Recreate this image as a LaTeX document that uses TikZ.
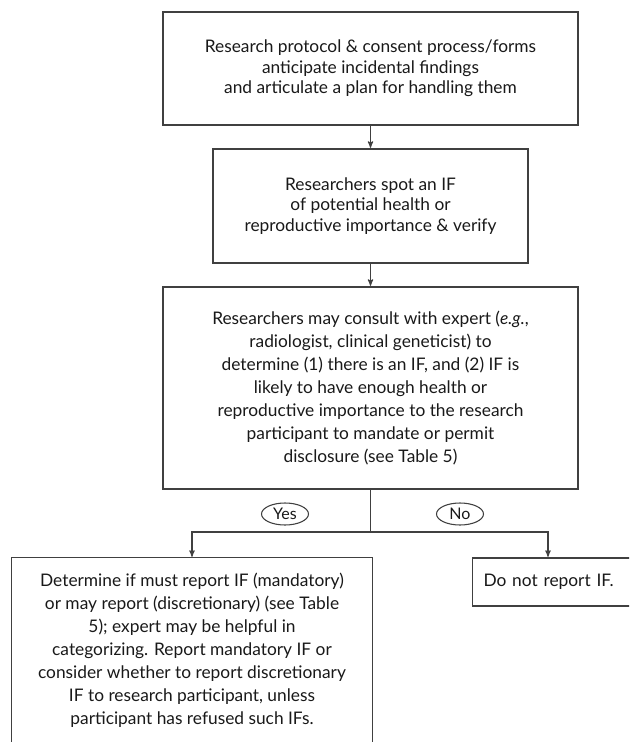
\documentclass[tikz,border=0pt]{standalone}
\usepackage{fontspec}
\setmainfont{Lato}
\usetikzlibrary{shapes.geometric,arrows}
\newcommand{\boxfont}{\fontsize{13pt}{17.25pt}\selectfont}
\newcommand{\tightfont}{\fontsize{13pt}{15.5pt}\selectfont}

\begin{document}
\begin{tikzpicture}[x=0.75pt,y=-0.75pt,->,>=stealth',shorten >=0.5pt,line width=0.8pt,
                    box/.style={rectangle,draw=black!75,text=black!90,align=center,font=\boxfont},
                    tag/.style={ellipse,draw=black!75,text=black!90,inner sep=1pt,
                                minimum width=35.25pt,minimum height=16.5pt,font=\fontsize{12pt}{14pt}\selectfont}]
  \useasboundingbox (0,0) rectangle (629,742);
  \clip (0,0) rectangle (629,742);
  \fill[white] (0,0) rectangle (629,742);

  \node[box,font=\tightfont,minimum width=311.25pt,minimum height=84.75pt] (b1) at (370.5,68.5)
    {Research protocol \& consent process/forms\\anticipate incidental findings\\and articulate a plan for handling them};
  \node[box,font=\tightfont,minimum width=236.25pt,minimum height=85.5pt] (b2) [below of=b1,node distance=103.125pt]
    {Researchers spot an IF\\of potential health or\\reproductive importance \& verify};
  \node[box,minimum width=311.25pt,minimum height=151.5pt] (b3) [below of=b2,node distance=136.5pt]
    {Researchers may consult with expert (\textit{e.g.},\\radiologist, clinical geneticist) to\\determine (1) there is an IF, and (2) IF is\\likely to have enough health or\\reproductive importance to the research\\participant to mandate or permit\\disclosure (see Table 5)};
  % box runs off the bottom edge
  \node[box,draw=none,minimum width=270pt,minimum height=138pt] (b4) at (192,650)
    {Determine if must report IF (mandatory)\\or may report (discretionary) (see Table\\5); expert may be helpful in\\categorizing. Report mandatory IF or\\consider whether to report discretionary\\IF to research participant, unless\\participant has refused such IFs.};
  \draw[black!75,-] (b4.north west) rectangle ([yshift=-30pt]b4.south east);
  \node[box,anchor=west,align=left,text width=127.5pt,inner xsep=8.25pt,minimum height=36pt] (b5) at (472,582)
    {Do not report IF.};

  \node[tag] (yes) at (285,514) {Yes};
  \node[tag] (no) at (460,514) {No};

  \coordinate (split) at (370.5,532);
  \draw[black!75] (b1) -- (b2);
  \draw[black!75] (b2) -- (b3);
  \draw[black!75,-] (b3.south) -- (split);
  \draw[black!75] (split) -| (b4.north);
  \draw[black!75] (split) -| ([xshift=57pt]b5.north west);
\end{tikzpicture}
\end{document}
